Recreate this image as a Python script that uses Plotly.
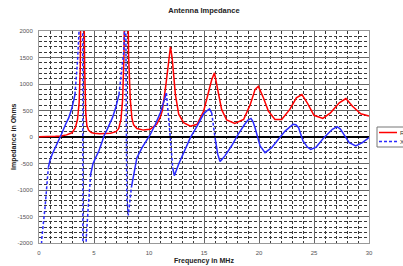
import plotly.graph_objects as go

# ---- data ----
freq_r = [0.0, 0.5, 1.0, 1.5, 2.0, 2.5, 3.0, 3.3, 3.5, 3.65, 3.75, 3.85, 3.95, 4.05, 4.15, 4.25,
          4.35, 4.5, 4.75, 5.0, 5.5, 6.0, 6.5, 7.0, 7.25, 7.45, 7.6, 7.72, 7.82, 7.95, 8.05, 8.15,
          8.3, 8.45, 8.6, 8.9, 9.5, 10.1, 10.7, 11.0, 11.2, 11.5, 11.8, 11.95, 12.1, 12.25, 12.4,
          12.7, 13.15, 13.76, 14.37, 14.97, 15.43, 15.7, 15.95, 16.3, 16.6, 17.06, 17.8, 18.6,
          19.2, 19.64, 19.94, 20.4, 20.85, 21.45, 22.06, 22.8, 23.4, 23.9, 24.4, 25.0, 25.8,
          26.5, 27.3, 27.9, 28.5, 29.25, 30.0]
r_ohms = [5, 5, 8, 12, 20, 40, 80, 170, 330, 650, 1300, 3000, 6000, 3500, 1300, 450,
          220, 130, 85, 70, 60, 60, 70, 100, 160, 330, 700, 1500, 3000, 5000, 3000, 1500,
          700, 350, 230, 160, 130, 145, 240, 360, 490, 925, 1450, 1700, 1500, 1150, 800,
          430, 270, 205, 240, 490, 860, 1080, 1210, 850, 520, 320, 255, 330,
          610, 895, 955, 740, 490, 330, 330, 520, 740, 800, 640, 410, 350,
          456, 645, 725, 580, 437, 394]

freq_x = [0.1, 0.24, 0.36, 0.55, 0.85, 1.0, 1.2, 1.5, 1.8, 2.06, 2.42, 2.7, 3.0, 3.27, 3.5,
          3.64, 3.8, 3.97, 4.0, 4.2, 4.3, 4.45, 4.55, 4.7, 4.9, 5.15, 5.45, 5.76, 5.9, 6.2,
          6.67, 6.97, 7.27, 7.5, 7.7, 7.88, 7.98, 8.12, 8.25, 8.4, 8.6, 8.9, 9.37, 9.82,
          10.12, 10.58, 11.03, 11.4, 11.58, 11.8, 11.94, 12.15, 12.3, 12.7, 13.15, 13.76,
          14.37, 14.97, 15.3, 15.5, 15.7, 15.88, 16.0, 16.25, 16.46, 16.9, 17.5, 18.1, 18.7,
          19.0, 19.27, 19.45, 19.64, 20.1, 20.55, 21.15, 21.76, 22.37, 23.1, 23.35, 23.6,
          24.0, 24.4, 24.7, 25.2, 25.9, 26.67, 27.1, 27.4, 27.7, 28.2, 28.8, 29.4, 30.0]
x_ohms = [-4000, -1950, -1700, -1325, -575, -440, -325, -200, -44, 60, 240, 360, 550, 800, 1425,
          2000, 3000, 6000, -6000, -2600, -1900, -1400, -1150, -700, -510, -390, -260, -75, 20, 145,
          360, 550, 800, 1240, 1600, 2600, -1150, -1480, -1250, -950, -700, -390, -200, -44,
          50, 240, 456, 700, 830, 360, -12, -575, -730, -510, -295, -12,
          205, 437, 500, 530, 456, 175, -12, -325, -462, -356, -170, 50, 240,
          320, 350, 290, 175, -170, -295, -200, -44, 112, 240, 230, 175,
          -75, -190, -235, -190, -12, 145, 195, 150, 50, -105, -170, -105, -10]

x_ticks = [0, 5, 10, 15, 20, 25, 30]
y_ticks = [2000, 1500, 1000, 500, 0, -500, -1000, -1500, -2000]
series_names = ["R", "X"]

# ---- split X into gentle (solid) and steep (dashed) runs, like the original renderer ----
STEEP = 1500  # ohm per MHz
sol_f, sol_v, das_f, das_v = [], [], [], []
prev = None
for i in range(len(freq_x) - 1):
    slope = abs((x_ohms[i + 1] - x_ohms[i]) / (freq_x[i + 1] - freq_x[i]))
    steep = slope > STEEP
    tf, tv = (das_f, das_v) if steep else (sol_f, sol_v)
    if prev is not steep:
        if tf:
            tf.append(None); tv.append(None)
        tf.append(freq_x[i]); tv.append(x_ohms[i])
    tf.append(freq_x[i + 1]); tv.append(x_ohms[i + 1])
    prev = steep

RED = "#ff0000"
BLUE = "#2a2aff"
DASH = "3px,2px"
FONT = "Liberation Sans, Arial, sans-serif"

fig = go.Figure()
fig.add_trace(go.Scatter(x=freq_r, y=r_ohms, mode="lines", name=series_names[0],
                         showlegend=False, line=dict(color=RED, width=1.5)))
fig.add_trace(go.Scatter(x=sol_f, y=sol_v, mode="lines", name=series_names[1], showlegend=False,
                         line=dict(color=BLUE, width=1.5)))
fig.add_trace(go.Scatter(x=das_f, y=das_v, mode="lines", name=series_names[1], showlegend=False,
                         line=dict(color=BLUE, width=1.5, dash=DASH)))

# plot area in pixels: x 39..369, y 31..243
L, R_, T, B = 39, 369, 31, 243
PW, PH = R_ - L, B - T
def px(xp):
    return (xp - L) / PW
def py(yp):
    return (B - yp) / PH

# compact legend box like the original (partly cut by the figure edge)
shapes = [
    dict(type="rect", xref="paper", yref="paper", x0=px(377), x1=px(412), y0=py(147), y1=py(127),
         line=dict(color="#777", width=1), fillcolor="white", layer="above"),
    dict(type="line", xref="paper", yref="paper", x0=px(379), x1=px(397), y0=py(132.5), y1=py(132.5),
         line=dict(color=RED, width=1.5), layer="above"),
    dict(type="line", xref="paper", yref="paper", x0=px(379), x1=px(397), y0=py(141.5), y1=py(141.5),
         line=dict(color=BLUE, width=1.5, dash=DASH), layer="above"),
]
legend_texts = [
    dict(text=series_names[0], x=px(398), y=py(132.5), xref="paper", yref="paper",
         xanchor="left", yanchor="middle", showarrow=False, font=dict(family=FONT, size=6, color="#333")),
    dict(text=series_names[1], x=px(398), y=py(141.5), xref="paper", yref="paper",
         xanchor="left", yanchor="middle", showarrow=False, font=dict(family=FONT, size=6, color="#333")),
]

fig.update_layout(
    width=403, height=266,
    margin=dict(l=L, r=403 - R_, t=T, b=266 - B, autoexpand=False),
    paper_bgcolor="white", plot_bgcolor="white",
    font=dict(family=FONT, size=6, color="#333"),
    showlegend=False,
    title=dict(text="<b>Antenna Impedance</b>", x=0.5, xref="paper", xanchor="center",
               y=1 - 10 / 266, yref="container", yanchor="middle",
               font=dict(family=FONT, size=7.5, color="#222")),
    xaxis=dict(range=[0, 30], tickmode="array", tickvals=x_ticks,
               ticktext=[str(t) for t in x_ticks],
               showgrid=True, gridcolor="#666", gridwidth=1,
               minor=dict(dtick=1, tick0=0, showgrid=True, gridcolor="#3a3a3a",
                          griddash=DASH, gridwidth=1),
               showline=True, linecolor="#999", linewidth=1, mirror=True,
               zeroline=False, ticks="", ticklabelstandoff=4,
               tickfont=dict(size=6, color="#555")),
    yaxis=dict(range=[-2000, 2000], tickmode="array", tickvals=y_ticks,
               ticktext=[str(t) for t in y_ticks],
               showgrid=True, gridcolor="#666", gridwidth=1,
               minor=dict(dtick=100, tick0=0, showgrid=True, gridcolor="#3a3a3a",
                          griddash=DASH, gridwidth=1),
               showline=True, linecolor="#999", linewidth=1, mirror=True,
               zeroline=True, zerolinecolor="#000", zerolinewidth=2,
               ticks="", ticklabelstandoff=4,
               tickfont=dict(size=6, color="#555")),
    shapes=shapes,
    annotations=[
        dict(text="<b>Frequency in MHz</b>", x=0.5, y=py(261), xref="paper",
             yref="paper", xanchor="center", yanchor="middle", showarrow=False,
             font=dict(family=FONT, size=7, color="#222")),
        dict(text="<b>Impedance in Ohms</b>", x=px(14), y=0.5, xref="paper",
             yref="paper", xanchor="center", yanchor="middle", showarrow=False,
             textangle=-90, font=dict(family=FONT, size=7, color="#222")),
    ] + legend_texts,
)

fig.write_html("out.html", config={"displayModeBar": False, "staticPlot": True},
               post_script="document.body.style.margin='0px';document.body.style.overflow='hidden';")
